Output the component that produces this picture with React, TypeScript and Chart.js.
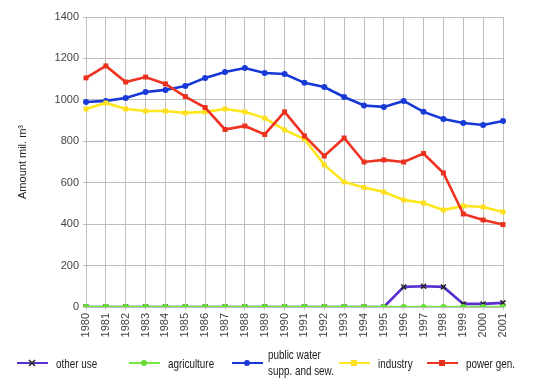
import React, { useEffect, useRef } from "react";
import { Chart, registerables } from "chart.js";

Chart.register(...registerables);

const years = ["1980","1981","1982","1983","1984","1985","1986","1987","1988","1989","1990","1991","1992","1993","1994","1995","1996","1997","1998","1999","2000","2001"];
const otherUse = [0,0,0,0,0,0,0,0,0,0,0,0,0,0,0,0,97,100,97,15,15,20];
const agriculture = [0,0,0,0,0,0,0,0,0,0,0,0,0,0,0,0,0,0,0,0,0,0];
const publicWater = [990,995,1009,1038,1048,1067,1106,1135,1154,1130,1125,1082,1062,1014,973,966,995,942,908,888,879,898];
const industry = [956,985,956,946,946,937,942,956,942,912,855,811,686,604,577,555,517,502,468,488,483,459];
const powerGen = [1106,1164,1086,1110,1077,1016,963,857,874,833,942,826,729,816,700,710,700,741,647,449,420,398];
const yTicks = [0,200,400,600,800,1000,1200,1400];

const legendNames = [["other use"],["agriculture"],["public water","supp. and sew."],["industry"],["power gen."]];
const legendX = [17, 129, 232, 339, 427];

const regular = "'Liberation Sans', Arial, sans-serif";

function drawMarker(ctx: CanvasRenderingContext2D, style: string, x: number, y: number, r: number, fill: string, stroke: string) {
  ctx.save();
  ctx.fillStyle = fill;
  ctx.strokeStyle = stroke;
  ctx.lineWidth = 1.5;
  ctx.beginPath();
  if (style === "rect") {
    ctx.rect(x - r, y - r, 2 * r, 2 * r);
    ctx.fill();
  } else if (style === "crossRot") {
    ctx.moveTo(x - r, y - r); ctx.lineTo(x + r, y + r);
    ctx.moveTo(x + r, y - r); ctx.lineTo(x - r, y + r);
    ctx.stroke();
  } else {
    ctx.arc(x, y, r, 0, Math.PI * 2);
    ctx.fill();
  }
  ctx.restore();
}

const legendPlugin = {
  id: "customLegend",
  afterDraw(chart: any) {
    const ctx: CanvasRenderingContext2D = chart.ctx;
    const y = 363;
    chart.data.datasets.forEach((ds: any, i: number) => {
      const x0 = legendX[i];
      ctx.save();
      ctx.strokeStyle = ds.borderColor;
      ctx.lineWidth = 2;
      ctx.beginPath();
      ctx.moveTo(x0, y);
      ctx.lineTo(x0 + 31, y);
      ctx.stroke();
      drawMarker(ctx, ds.pointStyle, x0 + 15, y, 3, ds.pointBackgroundColor, ds.pointBorderColor);
      ctx.fillStyle = "#1a1a1a";
      ctx.font = "13px " + regular;
      ctx.textBaseline = "middle";
      ctx.textAlign = "left";
      const lines = legendNames[i];
      const sx = 0.76;
      if (lines.length === 1) {
        ctx.translate(x0 + 39, y + 1);
      } else {
        ctx.translate(x0 + 36, y);
      }
      ctx.scale(sx, 1);
      if (lines.length === 1) {
        ctx.fillText(lines[0], 0, 0);
      } else {
        ctx.fillText(lines[0], 0, -8);
        ctx.fillText(lines[1], 0, 8);
      }
      ctx.restore();
    });
  },
};

export default function App() {
  const ref = useRef<HTMLCanvasElement>(null);
  useEffect(() => {
    const mk = (label: string, data: number[], color: string, ps: string, pr: number, pfill: string, pborder: string, order: number) => ({
      label,
      data,
      borderColor: color,
      backgroundColor: color,
      borderWidth: 2.6,
      pointStyle: ps,
      pointRadius: pr,
      pointBackgroundColor: pfill,
      pointBorderColor: pborder,
      pointBorderWidth: ps === "crossRot" ? 1.5 : 0,
      tension: 0,
      order,
    });
    const chart = new Chart(ref.current!, {
      type: "line",
      data: {
        labels: years,
        datasets: [
          mk("other use", otherUse, "#5a2fd0", "crossRot", 3.5, "#222", "#222", 1),
          mk("agriculture", agriculture, "#77e844", "circle", 3, "#66dd33", "#66dd33", 0),
          mk("public water supp. and sew.", publicWater, "#1538d6", "circle", 3, "#1a3ad8", "#1a3ad8", 4),
          mk("industry", industry, "#ffe61e", "rect", 3.5, "#ffe020", "#ffe020", 3),
          mk("power gen.", powerGen, "#ee3322", "rect", 3.5, "#e8301c", "#e8301c", 2),
        ],
      },
      options: {
        animation: false,
        responsive: false,
        devicePixelRatio: 1,
        layout: { padding: { top: 17, right: 54, bottom: 0, left: 0 } },
        plugins: { legend: { display: false }, tooltip: { enabled: false } },
        scales: {
          x: {
            offset: false,
            grid: { color: "#bdbdbd", lineWidth: 1, tickLength: 3 },
            border: { color: "#bdbdbd" },
            ticks: {
              minRotation: 90,
              maxRotation: 90,
              autoSkip: false,
              padding: 3,
              color: "#444",
              font: { family: regular, size: 11 },
            },
            afterFit: (s: any) => { s.height = 77; },
          },
          y: {
            min: 0,
            max: 1400,
            afterBuildTicks: (s: any) => { s.ticks = yTicks.map((v) => ({ value: v })); },
            grid: { color: "#bdbdbd", lineWidth: 1, tickLength: 3 },
            border: { color: "#bdbdbd" },
            ticks: {
              padding: 4,
              color: "#444",
              font: { family: regular, size: 11 },
              callback: (v: any) => String(v),
            },
            title: {
              display: true,
              text: "Amount mil. m³",
              color: "#222",
              font: { family: regular, size: 11 },
              padding: { top: 16, bottom: 0 },
            },
            afterFit: (s: any) => { s.width = 86; },
          },
        },
      },
      plugins: [legendPlugin],
    });
    return () => chart.destroy();
  }, []);
  return (
    <div style={{ position: "fixed", left: 0, top: 0, width: 557, height: 384, background: "#fff" }}>
      <canvas ref={ref} width={557} height={384} style={{ width: 557, height: 384 }} />
    </div>
  );
}
